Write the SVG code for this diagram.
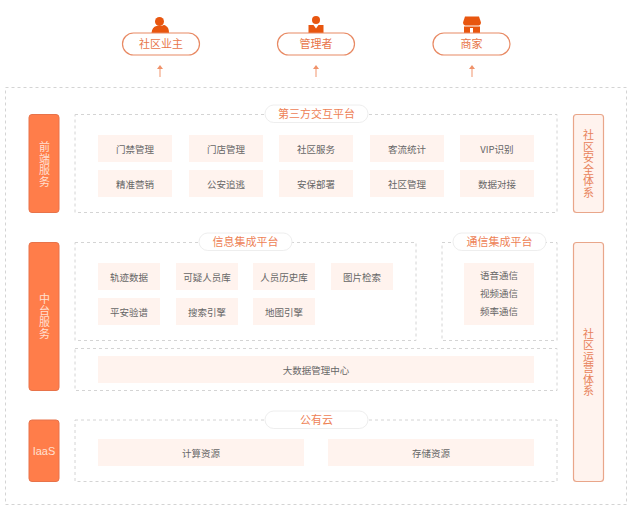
<svg xmlns="http://www.w3.org/2000/svg" width="643" height="519" viewBox="0 0 643 519">
<style>
text{font-family:"Noto Sans CJK SC","Liberation Sans",sans-serif;text-anchor:middle}
.dash{fill:#fff;stroke:#d4d4d4;stroke-width:1;stroke-dasharray:3 3}
.item{fill:#fff3ee}
.it{font-size:9.5px;fill:#666}
.bar{fill:#ff7d4a;stroke:#e8734a;stroke-width:1}
.bt{font-size:11px;fill:#ffe0d2}
.rbar{fill:#fff3ee;stroke:#e9a68a;stroke-width:1.2}
.rt{font-size:11px;fill:#e8825a}
.v{writing-mode:vertical-rl;text-orientation:upright;letter-spacing:.5px}
.pill{fill:#fff;stroke:#eeeeee;stroke-width:1}
.pt{font-size:11px;fill:#ee8256}
.top{fill:#fff;stroke:#e88a64;stroke-width:1.2}
.tt{font-size:11px;fill:#e8764a}
.icon{fill:#e8560f}
.arrow{stroke:#f4a785;stroke-width:1.2;fill:none}
.head{fill:#f0926a}
</style>
<rect id="outer" class="dash" x="5.5" y="87.5" width="621" height="417"/>
<g id="connectors">
<path class="arrow" d="M160 77V67"/><path class="head" d="M160 65l3 4h-6z"/>
<path class="arrow" d="M316 77V67"/><path class="head" d="M316 65l3 4h-6z"/>
<path class="arrow" d="M472 77V67"/><path class="head" d="M472 65l3 4h-6z"/>
</g>
<g id="owner">
<circle class="icon" cx="159.500" cy="21.500" r="4.500"/>
<path class="icon" d="M151.500 33c.5-4 2-6.500 5-7h5.500c1-1.500 3-1.500 4 0 2 1 3 3.500 3 7z"/>
<rect class="top" x="122.500" y="33" width="77" height="22" rx="11"/>
<text class="tt" x="161" y="48">社区业主</text>
</g>
<g id="manager">
<circle class="icon" cx="316" cy="20" r="4"/>
<path class="icon" d="M308.500 33v-8h5l2.500 3.500 2.500-3.500h5v8z"/>
<rect class="top" x="277.500" y="33" width="77" height="22" rx="11"/>
<text class="tt" x="316" y="48">管理者</text>
</g>
<g id="merchant">
<path class="icon" d="M465 16.500h14l2 6c0 2.500-2 3-3 3h-12c-1 0-3-.5-3-3z"/>
<path class="icon" d="M464 26.500h16V33h-7v-5h-3v5h-6z"/>
<rect class="top" x="433" y="33" width="77" height="22" rx="11"/>
<text class="tt" x="471.500" y="48">商家</text>
</g>
<g id="front-service">
<rect class="bar" x="29" y="114.500" width="30" height="98" rx="3"/>
<text class="bt v" x="44.500" y="164.500">前端服务</text>
</g>
<g id="middle-service">
<rect class="bar" x="29" y="242.500" width="30" height="148" rx="3"/>
<text class="bt v" x="44.500" y="316.500">中台服务</text>
</g>
<g id="iaas">
<rect class="bar" x="29" y="420" width="30" height="61.500" rx="3"/>
<text class="bt" x="44" y="455" style="font-family:'Liberation Sans',sans-serif">IaaS</text>
</g>
<g id="security">
<rect class="rbar" x="573.500" y="114.500" width="30" height="98" rx="3"/>
<text class="rt v" x="588.500" y="164">社区安全体系</text>
</g>
<g id="operation">
<rect class="rbar" x="573.500" y="242.500" width="30" height="239" rx="3"/>
<text class="rt v" x="588.500" y="362.500">社区运营体系</text>
</g>
<g id="third-party">
<rect class="dash" x="75" y="114.500" width="482" height="98"/>
<rect class="pill" x="265" y="105" width="103" height="17.500" rx="8.750"/>
<text class="pt" x="316.500" y="118">第三方交互平台</text>
<rect class="item" x="98" y="135" width="74" height="27"/><text class="it" x="135" y="152.500">门禁管理</text>
<rect class="item" x="189" y="135" width="74" height="27"/><text class="it" x="226" y="152.500">门店管理</text>
<rect class="item" x="279" y="135" width="74" height="27"/><text class="it" x="316" y="152.500">社区服务</text>
<rect class="item" x="370" y="135" width="74" height="27"/><text class="it" x="407" y="152.500">客流统计</text>
<rect class="item" x="460" y="135" width="74" height="27"/><text class="it" x="497" y="152.500">VIP识别</text>
<rect class="item" x="98" y="170" width="74" height="27"/><text class="it" x="135" y="187.500">精准营销</text>
<rect class="item" x="189" y="170" width="74" height="27"/><text class="it" x="226" y="187.500">公安追逃</text>
<rect class="item" x="279" y="170" width="74" height="27"/><text class="it" x="316" y="187.500">安保部署</text>
<rect class="item" x="370" y="170" width="74" height="27"/><text class="it" x="407" y="187.500">社区管理</text>
<rect class="item" x="460" y="170" width="74" height="27"/><text class="it" x="497" y="187.500">数据对接</text>
</g>
<g id="info-platform">
<rect class="dash" x="75" y="242.500" width="341" height="98"/>
<rect class="pill" x="199" y="233" width="93" height="17.500" rx="8.750"/>
<text class="pt" x="245.500" y="246">信息集成平台</text>
<rect class="item" x="98" y="263" width="62" height="27"/><text class="it" x="129" y="280.500">轨迹数据</text>
<rect class="item" x="176" y="263" width="62" height="27"/><text class="it" x="207" y="280.500">可疑人员库</text>
<rect class="item" x="253" y="263" width="62" height="27"/><text class="it" x="284" y="280.500">人员历史库</text>
<rect class="item" x="331" y="263" width="62" height="27"/><text class="it" x="362" y="280.500">图片检索</text>
<rect class="item" x="98" y="298" width="62" height="27"/><text class="it" x="129" y="315.500">平安验谱</text>
<rect class="item" x="176" y="298" width="62" height="27"/><text class="it" x="207" y="315.500">搜索引擎</text>
<rect class="item" x="253" y="298" width="62" height="27"/><text class="it" x="284" y="315.500">地图引擎</text>
</g>
<g id="comm-platform">
<rect class="dash" x="442" y="242.500" width="115" height="98"/>
<rect class="pill" x="453" y="233" width="93" height="17.500" rx="8.750"/>
<text class="pt" x="499.500" y="246">通信集成平台</text>
<rect class="item" x="464" y="263" width="70" height="62"/>
<text class="it" x="499" y="279">语音通信</text><text class="it" x="499" y="297">视频通信</text><text class="it" x="499" y="315">频率通信</text>
</g>
<g id="big-data">
<rect class="dash" x="75" y="348.500" width="482" height="42"/>
<rect class="item" x="98" y="356" width="436" height="27"/>
<text class="it" x="316" y="373.500">大数据管理中心</text>
</g>
<g id="public-cloud">
<rect class="dash" x="75" y="420" width="482" height="61.500"/>
<rect class="pill" x="265" y="411" width="103" height="17.500" rx="8.750"/>
<text class="pt" x="316.500" y="424">公有云</text>
<rect class="item" x="98" y="439" width="206" height="27"/><text class="it" x="201" y="456.500">计算资源</text>
<rect class="item" x="328" y="439" width="206" height="27"/><text class="it" x="431" y="456.500">存储资源</text>
</g>
</svg>
